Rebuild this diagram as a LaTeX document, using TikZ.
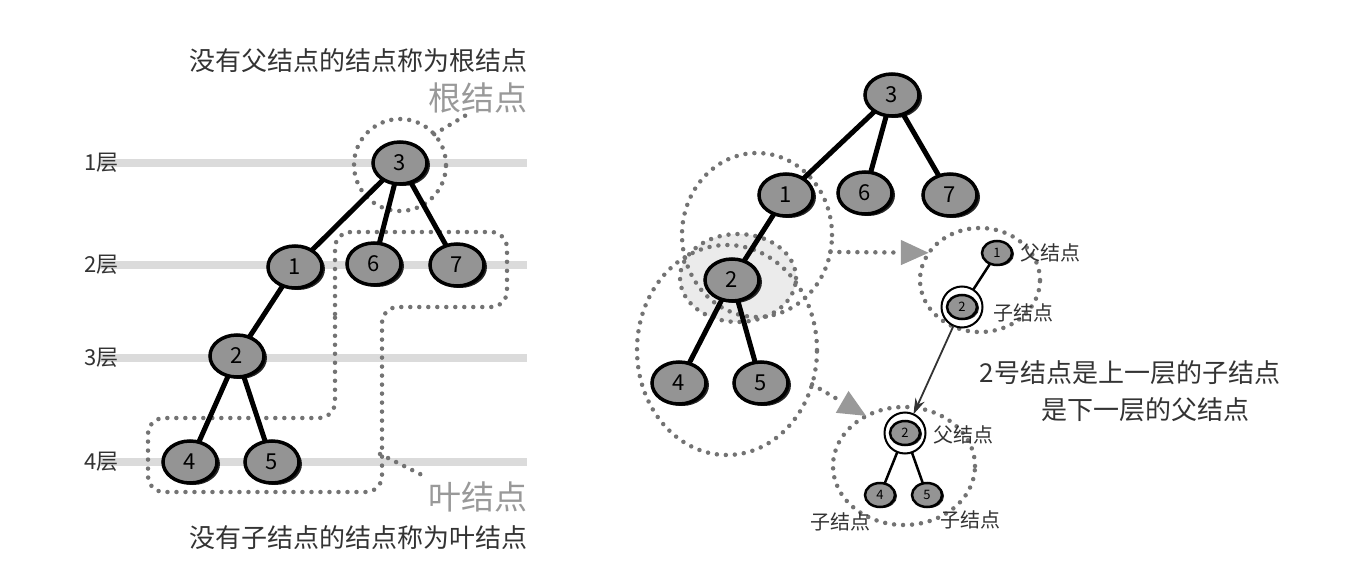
\documentclass[tikz,border=0pt]{standalone}
\usepackage{fontspec}
\setmainfont{Noto Sans CJK SC}
\usetikzlibrary{shapes.geometric,shadows,arrows.meta}
\begin{document}
\begin{tikzpicture}[x={(1pt,0)},y={(0,-1pt)}]
\definecolor{texte}{gray}{0.2}
\definecolor{grisclair}{gray}{0.6}
\definecolor{pointille}{gray}{0.45}
\definecolor{bande}{gray}{0.86}
\definecolor{remplir}{gray}{0.58}
\definecolor{ombre}{gray}{0.92}
\tikzset{corps/.style    = {shape          = ellipse,
                            draw           = black,
                            fill           = remplir,
                            text           = black,
                            inner sep      = 0pt,
                            outer sep      = 0pt},
         noeud/.style    = {corps,
                            line width     = 3.5pt,
                            minimum width  = 54pt,
                            minimum height = 42pt,
                            font           = \fontsize{22}{22}\selectfont,
                            drop shadow    = {shadow xshift=3pt,shadow yshift=-2pt,fill=black!85,opacity=1}},
         petit/.style    = {corps,
                            line width     = 2.5pt,
                            minimum width  = 30pt,
                            minimum height = 24pt,
                            font           = \fontsize{13}{13}\selectfont,
                            drop shadow    = {shadow xshift=2pt,shadow yshift=-1pt,fill=black!85,opacity=1}},
         anneau/.style   = {circle, draw=black, fill=white, line width=2pt,
                            minimum size=41pt, inner sep=0pt, outer sep=0pt},
         pointilles/.style = {draw=pointille, line width=4.5pt, line cap=round,
                            dash pattern=on 0pt off 9pt},
         zone/.style     = {pointilles, shape=ellipse, inner sep=0pt, outer sep=0pt},
         fleche/.style   = {pointilles, -{Triangle[length=28pt,width=24pt,color=grisclair,fill=grisclair]}},
         arete/.style    = {draw=black, line width=5pt},
         fine/.style     = {draw=black, line width=2.5pt},
         texte/.style    = {text=texte, inner sep=0pt, font=\fontsize{26}{26}\selectfont},
         gros/.style     = {text=grisclair, inner sep=0pt, font=\fontsize{33}{33}\selectfont},
         couche/.style   = {text=texte, inner sep=0pt, anchor=east, font=\fontsize{22}{22}\selectfont},
         legende/.style  = {text=texte, inner sep=0pt, font=\fontsize{20}{20}\selectfont}}
\useasboundingbox (0,0) rectangle (1358,578);
% couches
\foreach \n/\y in {1/163,2/265,3/358,4/462}{
  \draw[bande, line width=8pt] (100,\y) -- (527,\y);
  \node[couche] (c\n) at (119,\y) {\n 层};
}
\node[texte, anchor=east] (titreR) at (528,61) {没有父结点的结点称为根结点};
\node[gros, anchor=east] (nomR) at (528,98) {根结点};
\node[gros, anchor=east] (nomF) at (528,497) {叶结点};
\node[texte, anchor=east] (titreF) at (528,538) {没有子结点的结点称为叶结点};
% zones
\node[zone, shape=circle, minimum size=92pt] (zR) at (400,165) {};
\coordinate (pR) at (468,114);
\draw[pointilles] (zR.42) -- (pR);
\draw[pointilles, rounded corners=16pt] (335,330) -- (335,232) -- (507,232) -- (507,307)
      -- (382,307) -- (382,492) -- (148,492) -- (148,418) -- (335,418) -- cycle;
\coordinate (pF1) at (380,454);
\coordinate (pF2) at (428,478);
\draw[pointilles] (pF1) -- (pF2);
\node[zone, fill=ombre, draw=none, minimum width=116pt, minimum height=88pt] (zC0) at (738,278) {};
\node[zone, minimum width=116pt, minimum height=88pt] (zC) at (738,278) {};
\node[zone, minimum width=150pt, minimum height=164pt] (zA) at (757,235) {};
\node[zone, minimum width=180pt, minimum height=210pt] (zB) at (727,350) {};
\node[zone, minimum width=120pt, minimum height=104pt] (zG1) at (980,280) {};
\node[zone, minimum width=142pt, minimum height=118pt] (zG2) at (904,466) {};
\draw[fleche] (zA.-13) -- (zG1.152);
\draw[fleche] (zB.-22) -- (zG2.127);
% arbre de gauche
\node[noeud] (L3) at (400,163) {3};
\node[noeud] (L1) at (295,267) {1};
\node[noeud] (L6) at (374,264) {6};
\node[noeud] (L7) at (457,265) {7};
\node[noeud] (L2) at (237,356) {2};
\node[noeud] (L4) at (190,462) {4};
\node[noeud] (L5) at (272,462) {5};
\draw[arete] (L3) -- (L1)  (L3) -- (L6)  (L3) -- (L7)
             (L1) -- (L2)  (L2) -- (L4)  (L2) -- (L5);
% arbre de droite
\node[noeud] (R3) at (892,95) {3};
\node[noeud] (R1) at (786,195) {1};
\node[noeud] (R6) at (865,193) {6};
\node[noeud] (R7) at (950,195) {7};
\node[noeud] (R2) at (732,280) {2};
\node[noeud] (R4) at (679,383) {4};
\node[noeud] (R5) at (761,383) {5};
\draw[arete] (R3) -- (R1)  (R3) -- (R6)  (R3) -- (R7)
             (R1) -- (R2)  (R2) -- (R4)  (R2) -- (R5);
% groupes
\node[petit] (S1) at (997,253) {1};
\node[anneau] (S2a) at (962,307) {};
\node[petit] (S2) at (962,307) {2};
\node[anneau] (T2a) at (905,433) {};
\node[petit] (T2) at (905,433) {2};
\node[petit] (T4) at (880,495) {4};
\node[petit] (T5) at (927,495) {5};
\draw[fine] (S1) -- (S2a)  (T2a) -- (T4)  (T2a) -- (T5);
\draw[draw=texte, line width=1.8pt, -{Stealth[length=16pt,width=10pt]}] (S2a) -- (T2a);
\node[legende, anchor=west] (lS1) at (1020,253) {父结点};
\node[legende, anchor=west] (lS2) at (993,313) {子结点};
\node[legende, anchor=west] (lT2) at (933,435) {父结点};
\node[legende] (lT4) at (840,522) {子结点};
\node[legende] (lT5) at (970,520) {子结点};
\node[texte] (ligne1) at (1130,373) {2号结点是上一层的子结点};
\node[texte] (ligne2) at (1145,410) {是下一层的父结点};
\end{tikzpicture}
\end{document}
